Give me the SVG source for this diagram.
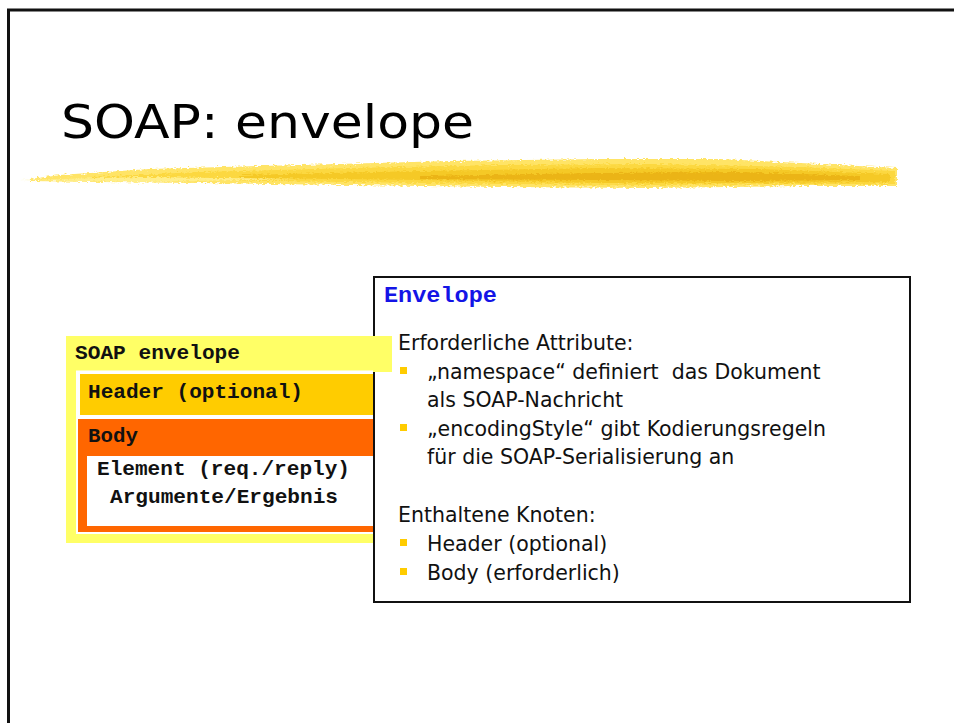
<svg xmlns="http://www.w3.org/2000/svg" width="954" height="723" viewBox="0 0 954 723">
  <defs>
    <style>
      .mono { font-family: "Liberation Mono", "Courier New", monospace; font-weight: bold; fill: #111; }
      .body { font-family: "DejaVu Sans", sans-serif; font-size: 20.5px; fill: #111; white-space: pre; }
      .bullet { fill: #FFCC00; }
    </style>
    <filter id="rough" x="-2%" y="-60%" width="104%" height="220%">
      <feTurbulence type="fractalNoise" baseFrequency="0.3 0.9" numOctaves="2" seed="4" result="n"/>
      <feDisplacementMap in="SourceGraphic" in2="n" scale="5" xChannelSelector="R" yChannelSelector="G"/>
    </filter>
  </defs>

  <rect width="954" height="723" fill="#ffffff"/>

  <!-- slide frame -->
  <path d="M8.5,723 V10 H954" fill="none" stroke="#111" stroke-width="3"/>

  <!-- title -->
  <text x="61" y="138" font-family="DejaVu Sans, sans-serif" font-size="46" fill="#000" textLength="413" lengthAdjust="spacingAndGlyphs">SOAP: envelope</text>

  <!-- brush stroke under the title -->
  <g id="brush" filter="url(#rough)">
    <polygon fill="#FFE466" points="30,179 60,175 150,169 300,165 450,161 600,159 720,159 800,163 897,168 897,186 800,186 650,188 500,187 350,185 200,183 100,182 30,181"/>
    <polygon fill="#FCD840" points="90,177 200,172 350,168 500,165 650,164 800,167 895,171 895,184 800,184 650,185 500,184 350,182 200,180 90,180"/>
    <polygon fill="#F5C928" points="240,175 420,171 600,168 760,169 890,174 890,182 760,183 600,183 420,180 240,178"/>
    <polygon fill="#EBB412" points="420,176 600,173 740,172 860,176 860,180 740,181 600,180 420,179"/>
    <polygon fill="#FFEE8A" points="20,180 140,177 300,179 140,182"/>
  </g>

  <!-- SOAP envelope structure -->
  <g id="envelope">
    <rect x="66" y="336" width="326" height="207" fill="#FFFF66"/>
    <rect x="76" y="370.5" width="316" height="163.5" fill="#ffffff"/>
    <text class="mono" x="75" y="359" font-size="20.5" textLength="165" lengthAdjust="spacingAndGlyphs">SOAP envelope</text>
  </g>
  <g id="header">
    <rect x="80" y="374" width="312" height="41" fill="#FFCC00"/>
    <text class="mono" x="88" y="398" font-size="20.5" textLength="215" lengthAdjust="spacingAndGlyphs">Header (optional)</text>
  </g>
  <g id="body">
    <rect x="78" y="419" width="314" height="113" fill="#FF6600"/>
    <rect x="87" y="456" width="305" height="70" fill="#ffffff"/>
    <text class="mono" x="88" y="442" font-size="20.5" textLength="50" lengthAdjust="spacingAndGlyphs">Body</text>
    <text class="mono" x="97" y="475" font-size="20.5" textLength="253" lengthAdjust="spacingAndGlyphs">Element (req./reply)</text>
    <text class="mono" x="110" y="503" font-size="20.5" textLength="228" lengthAdjust="spacingAndGlyphs">Argumente/Ergebnis</text>
  </g>

  <!-- description box -->
  <g id="description">
    <rect x="374" y="277" width="536" height="325" fill="#ffffff" stroke="#111" stroke-width="2"/>
    <text class="mono" x="384" y="302" font-size="22" style="fill:#1414E6" textLength="113" lengthAdjust="spacingAndGlyphs">Envelope</text>
    <text class="body" x="398" y="350">Erforderliche Attribute:</text>
    <rect class="bullet" x="400" y="367" width="7" height="7"/>
    <text class="body" x="427" y="379">„namespace“ definiert  das Dokument</text>
    <text class="body" x="427" y="407">als SOAP-Nachricht</text>
    <rect class="bullet" x="400" y="424" width="7" height="7"/>
    <text class="body" x="427" y="436">„encodingStyle“ gibt Kodierungsregeln</text>
    <text class="body" x="427" y="464">für die SOAP-Serialisierung an</text>
    <text class="body" x="398" y="522">Enthaltene Knoten:</text>
    <rect class="bullet" x="400" y="539" width="7" height="7"/>
    <text class="body" x="427" y="551">Header (optional)</text>
    <rect class="bullet" x="400" y="568" width="7" height="7"/>
    <text class="body" x="427" y="580">Body (erforderlich)</text>
  </g>

  <!-- label strip of the envelope overlapping the box edge -->
  <rect x="373" y="336" width="19" height="36" fill="#FFFF66"/>
</svg>
